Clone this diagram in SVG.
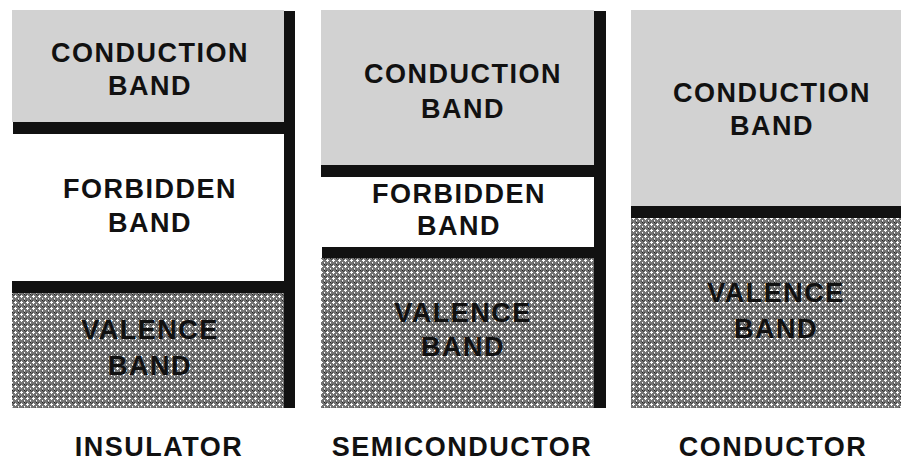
<svg xmlns="http://www.w3.org/2000/svg" width="901" height="462" viewBox="0 0 901 462">
<defs>
<pattern id="dots" x="0" y="0" width="6" height="6" patternUnits="userSpaceOnUse">
<rect width="6" height="6" fill="#747474"/>
<rect x="0" y="0" width="1" height="1" fill="#222"/>
<rect x="3" y="3" width="1" height="1" fill="#222"/>
<rect x="1" y="1" width="1" height="1" fill="#444"/>
<rect x="2" y="0" width="1" height="1" fill="#444"/>
<rect x="3" y="1" width="1" height="3" fill="#fff"/>
<rect x="0" y="4" width="1" height="1" fill="#fff"/>
<rect x="2" y="2" width="3" height="1" fill="#fff"/>
<rect x="0" y="5" width="1" height="1" fill="#bbb"/>
<rect x="5" y="5" width="1" height="1" fill="#555"/>
</pattern>
<style>
.cond{fill:#d2d2d2}
.val{fill:url(#dots)}
.bar{fill:#111}
text{font-family:"Liberation Sans",Arial,sans-serif;font-weight:bold;font-size:27px;fill:#111;text-anchor:middle;letter-spacing:1.5px}
.lbl{font-size:27px}
</style>
</defs>
<rect width="901" height="462" fill="#fff"/>
<g id="insulator">
<rect class="cond" x="12" y="10" width="272" height="112"/>
<rect class="val" x="12" y="293" width="272" height="115"/>
<rect class="bar" x="13" y="122" width="282" height="12"/>
<rect class="bar" x="12" y="281" width="283" height="12"/>
<rect class="bar" x="284" y="11" width="11" height="397"/>
<text x="150" y="62">CONDUCTION</text>
<text x="150" y="95">BAND</text>
<text x="150" y="198">FORBIDDEN</text>
<text x="150" y="232">BAND</text>
<text x="150" y="339">VALENCE</text>
<text x="150" y="375">BAND</text>
<text class="lbl" x="159" y="456">INSULATOR</text>
</g>
<g id="semiconductor">
<rect class="cond" x="321" y="10" width="273" height="155"/>
<rect class="val" x="321" y="258" width="273" height="150"/>
<rect class="bar" x="321" y="165" width="285" height="12"/>
<rect class="bar" x="322" y="247" width="284" height="11"/>
<rect class="bar" x="594" y="11" width="12" height="397"/>
<text x="463" y="83">CONDUCTION</text>
<text x="463" y="118">BAND</text>
<text x="459" y="203">FORBIDDEN</text>
<text x="459" y="235">BAND</text>
<text x="463" y="322">VALENCE</text>
<text x="463" y="356">BAND</text>
<text class="lbl" x="462" y="456">SEMICONDUCTOR</text>
</g>
<g id="conductor">
<rect class="cond" x="631" y="10" width="270" height="196"/>
<rect class="val" x="631" y="218" width="270" height="190"/>
<rect class="bar" x="631" y="206" width="270" height="12"/>
<text x="772" y="102">CONDUCTION</text>
<text x="772" y="135">BAND</text>
<text x="776" y="302">VALENCE</text>
<text x="776" y="338">BAND</text>
<text class="lbl" x="773" y="456">CONDUCTOR</text>
</g>
<g id="connectors"></g>
</svg>
